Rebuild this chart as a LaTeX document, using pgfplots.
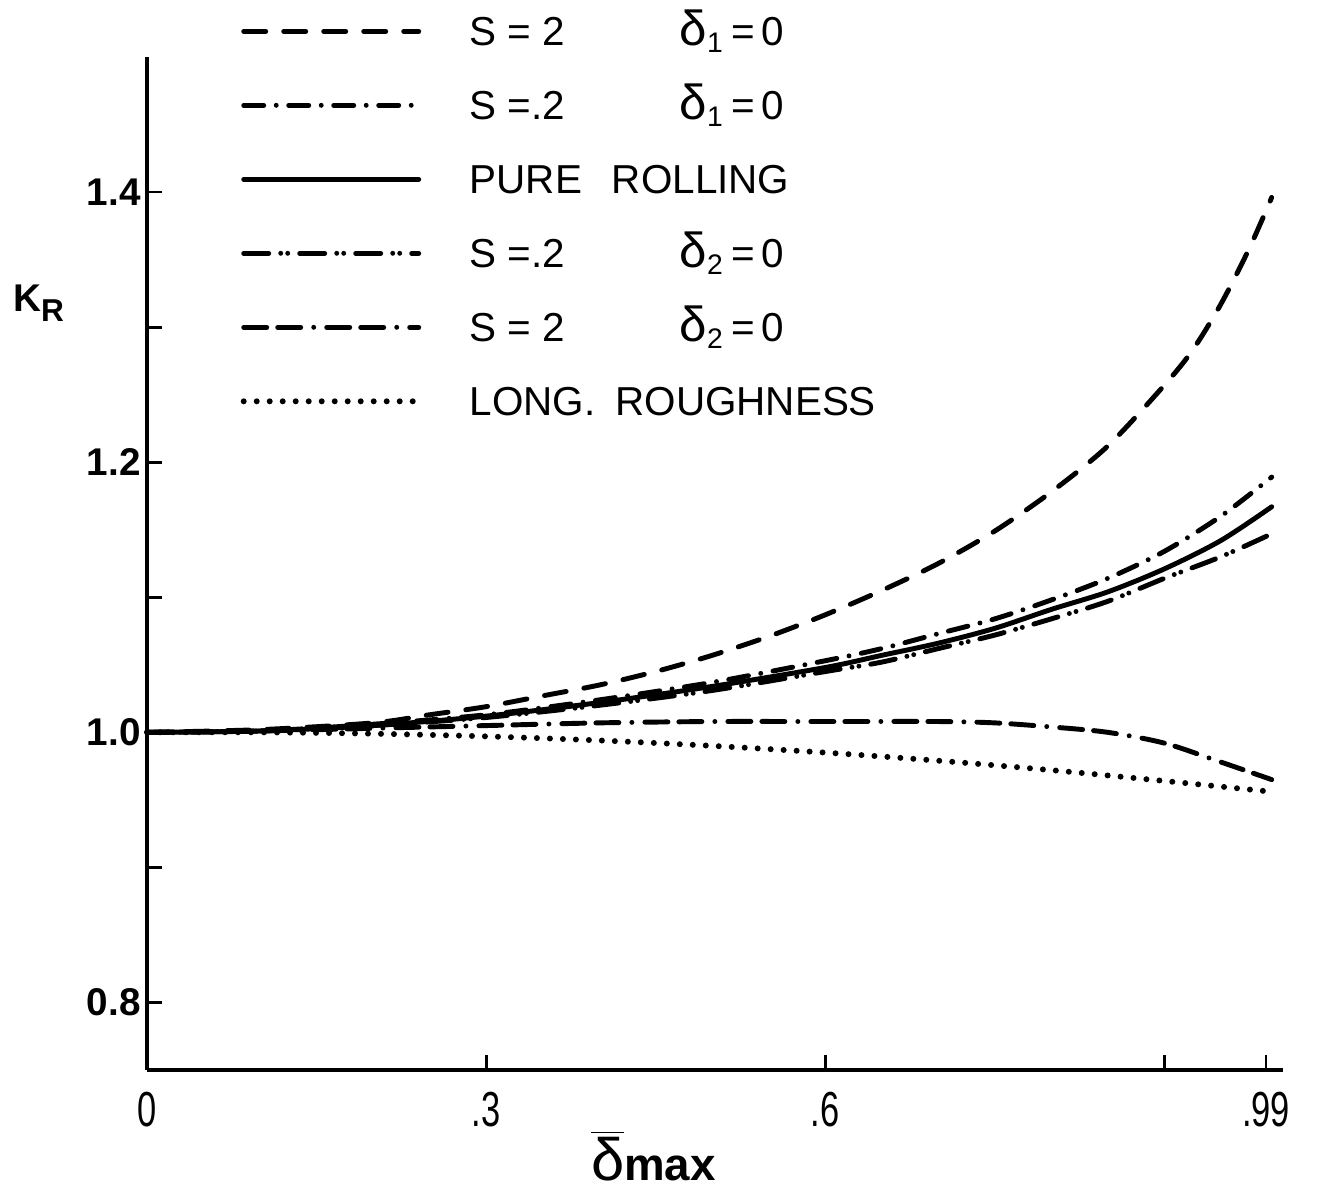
\documentclass[border=0pt]{standalone}
\usepackage{fontspec}
\setmainfont{Liberation Sans}
\newfontfamily\narrowfont{Liberation Sans}[FakeStretch=0.7]
\usepackage{pgfplots}
\pgfplotsset{compat=1.18}

% line styles of the six curves
\tikzset{
  crv/.style={line width=1.4pt, line cap=round, black},
  sdash/.style={crv, dash pattern=on 2.2mm off 1.8mm},
  sdashdot/.style={crv, dash pattern=on 2.0mm off 1.25mm on 0pt off 1.25mm},
  sdashdotdot/.style={crv, dash pattern=on 2.5mm off 1.2mm on 0pt off 0.7mm on 0pt off 1.2mm},
  sdashdashdot/.style={crv, dash pattern=on 2.3mm off 1.1mm on 2.3mm off 1.3mm on 0pt off 1.3mm},
  sdot/.style={line width=1.7pt, line cap=round, black, dash pattern=on 0pt off 1.3mm},
}

\begin{document}
\begin{tikzpicture}
\useasboundingbox (-1.47cm,-1.25cm) rectangle (11.80cm,10.70cm);
\begin{axis}[
    at={(0,0)}, anchor=south west,
    scale only axis,
    width=11.36cm, height=10.13cm,
    xmin=0, xmax=1.005,
    ymin=0.75, ymax=1.5,
    axis lines=left,
    axis line style={line width=1.4pt, -},
    xtick={0,0.3,0.6,0.9,0.99},
    xticklabels={0,.3,.6,,.99},
    ytick={0.8,0.9,1.0,1.1,1.2,1.3,1.4},
    yticklabels={0.8,,1.0,,1.2,,1.4},
    tick align=inside,
    major tick length=1.5mm,
    tick style={line width=0.8pt, black},
    /pgf/number format/assume math mode=true,
    xticklabel style={font=\narrowfont\fontsize{14}{14}\selectfont, yshift=-1mm},
    yticklabel style={font=\bfseries\fontsize{11}{11}\selectfont, xshift=0.6mm},
    clip=false,
    every axis plot/.append style={smooth},
    legend cell align=left,
    legend image code/.code={\draw[#1,sharp plot] (0cm,0cm) -- (1.75cm,0cm);},
    legend style={at={(axis cs:0.0823,1.5377)}, anchor=north west,
        draw=none, fill=none, inner sep=0pt,
        font=\fontsize{11.5}{13}\selectfont,
        row sep=2.5mm, column sep=4.8mm,
        nodes={inner sep=0pt, text height=3.9mm, text depth=1.0mm}},
]
% S = 2, delta_1 = 0
\addplot[sdash] coordinates {
(0,1.000) (0.1,1.002) (0.2,1.007) (0.25,1.013) (0.3,1.019) (0.35,1.027)
(0.4,1.035) (0.45,1.045) (0.5,1.057) (0.55,1.071) (0.6,1.087) (0.65,1.105)
(0.7,1.125) (0.75,1.149) (0.8,1.178) (0.85,1.212) (0.9,1.257) (0.925,1.283)
(0.95,1.317) (0.975,1.358) (0.995,1.396)};
\addlegendentry{\makebox[2.1cm][l]{S = 2}{\fontsize{14}{14}\selectfont δ}\textsubscript{1}\,=\,0}
% S = .2, delta_1 = 0
\addplot[sdashdot] coordinates {
(0,1.000) (0.1,1.001) (0.2,1.006) (0.3,1.013) (0.4,1.024) (0.5,1.037)
(0.6,1.053) (0.65,1.062) (0.7,1.073) (0.75,1.084) (0.8,1.098) (0.85,1.114)
(0.9,1.134) (0.95,1.160) (0.995,1.189)};
\addlegendentry{\makebox[2.1cm][l]{S =.2}{\fontsize{14}{14}\selectfont δ}\textsubscript{1}\,=\,0}
% pure rolling
\addplot[crv] coordinates {
(0,1.000) (0.1,1.001) (0.2,1.005) (0.3,1.012) (0.4,1.022) (0.5,1.034)
(0.6,1.048) (0.65,1.057) (0.7,1.066) (0.75,1.077) (0.8,1.091) (0.85,1.104)
(0.9,1.121) (0.95,1.142) (0.995,1.167)};
\addlegendentry{PURE\hspace{3mm}ROLLING}
% S = .2, delta_2 = 0
\addplot[sdashdotdot] coordinates {
(0,1.000) (0.1,1.001) (0.2,1.005) (0.3,1.011) (0.4,1.020) (0.5,1.031)
(0.6,1.045) (0.65,1.052) (0.7,1.062) (0.75,1.072) (0.8,1.084) (0.85,1.097)
(0.9,1.114) (0.95,1.130) (0.995,1.147)};
\addlegendentry{\makebox[2.1cm][l]{S =.2}{\fontsize{14}{14}\selectfont δ}\textsubscript{2}\,=\,0}
% S = 2, delta_2 = 0
\addplot[sdashdashdot] coordinates {
(0,1.000) (0.1,1.001) (0.2,1.003) (0.3,1.005) (0.4,1.007) (0.5,1.008)
(0.6,1.008) (0.7,1.008) (0.75,1.007) (0.8,1.004) (0.85,1.000) (0.9,0.992)
(0.95,0.978) (0.995,0.965)};
\addlegendentry{\makebox[2.1cm][l]{S = 2}{\fontsize{14}{14}\selectfont δ}\textsubscript{2}\,=\,0}
% longitudinal roughness
\addplot[sdot] coordinates {
(0,1.000) (0.1,1.000) (0.2,0.999) (0.3,0.997) (0.4,0.994) (0.5,0.990)
(0.6,0.985) (0.7,0.979) (0.8,0.972) (0.9,0.964) (0.995,0.956)};
\addlegendentry{LONG.\hspace{2mm}ROUGHNESS}

\node[font=\bfseries\fontsize{11}{11}\selectfont] at (axis cs:-0.096,1.318)
    {K{\fontsize{9}{9}\selectfont\raisebox{-1mm}{R}}};
\node[anchor=base] at (axis cs:0.448,0.668)
    {\fontsize{17}{17}\selectfont$\overline{\mbox{δ}}$\fontsize{13}{13}\selectfont\bfseries max};
\end{axis}
\end{tikzpicture}
\end{document}
